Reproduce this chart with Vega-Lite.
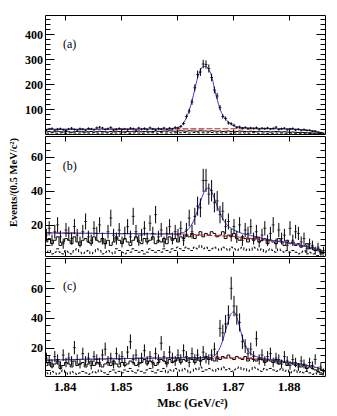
{
"$schema": "https://vega.github.io/schema/vega-lite/v6.json",
"background": "white",
"padding": {"left": 7, "top": 14, "right": 5, "bottom": 5},
"spacing": 0,
"config": {
 "view": {"stroke": "black", "strokeWidth": 1},
 "font": "Liberation Serif",
 "axis": {"domain": false, "grid": false, "tickColor": "black", "tickWidth": 1, "labelFont": "Liberation Serif", "labelFontWeight": "bold", "labelFontSize": 12, "labelColor": "black", "titleFont": "Liberation Serif", "titleFontWeight": "bold", "titleColor": "black", "labelOverlap": false, "labelFlush": false, "labelBound": false},
 "axisX": {"labelFontSize": 13}
},
"datasets": {
"a": [
{"x":1.83675,"n":16,"e":4,"f":18.5,"g":18.5,"h":9,"k":4},
{"x":1.83725,"n":20,"e":4.5,"f":18.5,"g":18.5,"h":10,"k":3},
{"x":1.83775,"n":22,"e":4.7,"f":18.6,"g":18.6,"h":8,"k":5},
{"x":1.83825,"n":15,"e":3.9,"f":18.6,"g":18.6,"h":9,"k":4},
{"x":1.83875,"n":19,"e":4.4,"f":18.7,"g":18.7,"h":11,"k":3},
{"x":1.83925,"n":21,"e":4.6,"f":18.7,"g":18.7,"h":9,"k":4},
{"x":1.83975,"n":17,"e":4.1,"f":18.7,"g":18.7,"h":8,"k":5},
{"x":1.84025,"n":14,"e":3.7,"f":18.8,"g":18.8,"h":10,"k":3},
{"x":1.84075,"n":20,"e":4.5,"f":18.8,"g":18.8,"h":9,"k":4},
{"x":1.84125,"n":23,"e":4.8,"f":18.9,"g":18.9,"h":7,"k":5},
{"x":1.84175,"n":18,"e":4.2,"f":18.9,"g":18.9,"h":9,"k":4},
{"x":1.84225,"n":16,"e":4,"f":18.9,"g":18.9,"h":10,"k":3},
{"x":1.84275,"n":21,"e":4.6,"f":19.0,"g":19.0,"h":11,"k":4},
{"x":1.84325,"n":19,"e":4.4,"f":19.0,"g":19.0,"h":9,"k":5},
{"x":1.84375,"n":15,"e":3.9,"f":19.1,"g":19.1,"h":8,"k":4},
{"x":1.84425,"n":22,"e":4.7,"f":19.1,"g":19.1,"h":9,"k":4},
{"x":1.84475,"n":20,"e":4.5,"f":19.1,"g":19.1,"h":10,"k":3},
{"x":1.84525,"n":17,"e":4.1,"f":19.2,"g":19.2,"h":8,"k":5},
{"x":1.84575,"n":25,"e":5,"f":19.2,"g":19.2,"h":9,"k":4},
{"x":1.84625,"n":27,"e":5.2,"f":19.3,"g":19.3,"h":11,"k":3},
{"x":1.84675,"n":24,"e":4.9,"f":19.3,"g":19.3,"h":10,"k":4},
{"x":1.84725,"n":18,"e":4.2,"f":19.3,"g":19.3,"h":9,"k":5},
{"x":1.84775,"n":21,"e":4.6,"f":19.4,"g":19.4,"h":8,"k":4},
{"x":1.84825,"n":26,"e":5.1,"f":19.4,"g":19.4,"h":10,"k":3},
{"x":1.84875,"n":16,"e":4,"f":19.5,"g":19.5,"h":9,"k":5},
{"x":1.84925,"n":19,"e":4.4,"f":19.5,"g":19.5,"h":11,"k":4},
{"x":1.84975,"n":22,"e":4.7,"f":19.5,"g":19.5,"h":10,"k":4},
{"x":1.85025,"n":18,"e":4.2,"f":19.6,"g":19.6,"h":8,"k":3},
{"x":1.85075,"n":20,"e":4.5,"f":19.6,"g":19.6,"h":9,"k":5},
{"x":1.85125,"n":17,"e":4.1,"f":19.7,"g":19.7,"h":10,"k":4},
{"x":1.85175,"n":23,"e":4.8,"f":19.7,"g":19.7,"h":9,"k":3},
{"x":1.85225,"n":21,"e":4.6,"f":19.7,"g":19.7,"h":11,"k":4},
{"x":1.85275,"n":15,"e":3.9,"f":19.8,"g":19.8,"h":10,"k":5},
{"x":1.85325,"n":24,"e":4.9,"f":19.8,"g":19.8,"h":12,"k":4},
{"x":1.85375,"n":19,"e":4.4,"f":19.9,"g":19.9,"h":9,"k":3},
{"x":1.85425,"n":22,"e":4.7,"f":19.9,"g":19.9,"h":10,"k":4},
{"x":1.85475,"n":18,"e":4.2,"f":19.9,"g":19.9,"h":11,"k":5},
{"x":1.85525,"n":25,"e":5,"f":20.0,"g":20.0,"h":9,"k":4},
{"x":1.85575,"n":20,"e":4.5,"f":20.0,"g":20.0,"h":10,"k":5},
{"x":1.85625,"n":17,"e":4.1,"f":20.1,"g":20.1,"h":12,"k":4},
{"x":1.85675,"n":22,"e":4.7,"f":20.1,"g":20.1,"h":11,"k":3},
{"x":1.85725,"n":19,"e":4.4,"f":20.1,"g":20.1,"h":10,"k":5},
{"x":1.85775,"n":24,"e":4.9,"f":20.2,"g":20.2,"h":12,"k":4},
{"x":1.85825,"n":18,"e":4.2,"f":20.2,"g":20.2,"h":11,"k":4},
{"x":1.85875,"n":23,"e":4.8,"f":21.5,"g":20.3,"h":13,"k":5},
{"x":1.85925,"n":20,"e":4.5,"f":22,"g":20.3,"h":12,"k":4},
{"x":1.85975,"n":26,"e":5.1,"f":23,"g":20.3,"h":11,"k":5},
{"x":1.86025,"n":24,"e":4.9,"f":26,"g":20.4,"h":12,"k":4},
{"x":1.86075,"n":30,"e":5.5,"f":32,"g":20.4,"h":13,"k":5},
{"x":1.86125,"n":42,"e":6.5,"f":45,"g":20.5,"h":12,"k":6},
{"x":1.86175,"n":70,"e":8.4,"f":65,"g":20.5,"h":11,"k":5},
{"x":1.86225,"n":92,"e":9.6,"f":95,"g":20.5,"h":13,"k":4},
{"x":1.86275,"n":128,"e":11.3,"f":132,"g":20.6,"h":12,"k":5},
{"x":1.86325,"n":185,"e":13.6,"f":179,"g":20.6,"h":12,"k":6},
{"x":1.86375,"n":238,"e":15.4,"f":225,"g":20.7,"h":11,"k":5},
{"x":1.86425,"n":248,"e":15.7,"f":255,"g":20.7,"h":13,"k":4},
{"x":1.86475,"n":280,"e":16.7,"f":270,"g":20.7,"h":12,"k":5},
{"x":1.86525,"n":278,"e":16.7,"f":271,"g":20.8,"h":12,"k":4},
{"x":1.86575,"n":262,"e":16.2,"f":258,"g":20.8,"h":11,"k":5},
{"x":1.86625,"n":226,"e":15,"f":232,"g":20.8,"h":13,"k":6},
{"x":1.86675,"n":176,"e":13.3,"f":183,"g":20.9,"h":12,"k":5},
{"x":1.86725,"n":152,"e":12.3,"f":138,"g":20.9,"h":11,"k":4},
{"x":1.86775,"n":106,"e":10.3,"f":100,"g":20.9,"h":12,"k":5},
{"x":1.86825,"n":70,"e":8.4,"f":75,"g":20.9,"h":10,"k":4},
{"x":1.86875,"n":62,"e":7.9,"f":59,"g":21,"h":11,"k":5},
{"x":1.86925,"n":44,"e":6.6,"f":48,"g":21,"h":12,"k":4},
{"x":1.86975,"n":41,"e":6.4,"f":39,"g":21,"h":10,"k":3},
{"x":1.87025,"n":35,"e":5.9,"f":32,"g":21,"h":11,"k":5},
{"x":1.87075,"n":26,"e":5.1,"f":29,"g":21,"h":10,"k":4},
{"x":1.87125,"n":28,"e":5.3,"f":27,"g":21,"h":12,"k":4},
{"x":1.87175,"n":23,"e":4.8,"f":25.5,"g":21,"h":11,"k":5},
{"x":1.87225,"n":26,"e":5.1,"f":24.5,"g":21,"h":10,"k":4},
{"x":1.87275,"n":21,"e":4.6,"f":24,"g":21,"h":9,"k":3},
{"x":1.87325,"n":24,"e":4.9,"f":23.5,"g":21,"h":11,"k":4},
{"x":1.87375,"n":22,"e":4.7,"f":23.2,"g":21,"h":10,"k":5},
{"x":1.87425,"n":25,"e":5,"f":22.9,"g":21,"h":9,"k":4},
{"x":1.87475,"n":19,"e":4.4,"f":22.6,"g":21,"h":11,"k":3},
{"x":1.87525,"n":23,"e":4.8,"f":22.4,"g":21,"h":10,"k":4},
{"x":1.87575,"n":21,"e":4.6,"f":22.2,"g":21,"h":9,"k":4},
{"x":1.87625,"n":24,"e":4.9,"f":22.0,"g":21,"h":10,"k":3},
{"x":1.87675,"n":20,"e":4.5,"f":21.8,"g":21,"h":8,"k":4},
{"x":1.87725,"n":22,"e":4.7,"f":21.6,"g":21,"h":9,"k":3},
{"x":1.87775,"n":27,"e":5.2,"f":21.4,"g":21,"h":10,"k":4},
{"x":1.87825,"n":18,"e":4.2,"f":21.2,"g":21,"h":9,"k":3},
{"x":1.87875,"n":21,"e":4.6,"f":21.0,"g":21,"h":8,"k":4},
{"x":1.87925,"n":23,"e":4.8,"f":20.7,"g":20.7,"h":9,"k":3},
{"x":1.87975,"n":17,"e":4.1,"f":20.4,"g":20.4,"h":8,"k":3},
{"x":1.88025,"n":20,"e":4.5,"f":20.0,"g":20.0,"h":7,"k":4},
{"x":1.88075,"n":22,"e":4.7,"f":19.5,"g":19.5,"h":8,"k":3},
{"x":1.88125,"n":16,"e":4,"f":18.9,"g":18.9,"h":7,"k":3},
{"x":1.88175,"n":19,"e":4.4,"f":18.2,"g":18.2,"h":6,"k":2},
{"x":1.88225,"n":15,"e":3.9,"f":17.4,"g":17.4,"h":7,"k":3},
{"x":1.88275,"n":18,"e":4.2,"f":16.4,"g":16.4,"h":6,"k":3},
{"x":1.88325,"n":14,"e":3.7,"f":15.2,"g":15.2,"h":5,"k":2},
{"x":1.88375,"n":15,"e":3.9,"f":13.8,"g":13.8,"h":5,"k":2},
{"x":1.88425,"n":11,"e":3.3,"f":12.2,"g":12.2,"h":4,"k":2},
{"x":1.88475,"n":12,"e":3.5,"f":10.3,"g":10.3,"h":4,"k":1},
{"x":1.88525,"n":7,"e":2.6,"f":8.1,"g":8.1,"h":3,"k":1},
{"x":1.88575,"n":6,"e":2.4,"f":5.6,"g":5.6,"h":2,"k":1},
{"x":1.88625,"n":3,"e":1.7,"f":2.8,"g":2.8,"h":1,"k":1}
],
"b": [
{"x":1.83675,"n":14,"e":3.7,"f":15.3,"g":15.3,"h":10,"k":4},
{"x":1.83725,"n":18,"e":4.2,"f":15.3,"g":15.3,"h":12,"k":5},
{"x":1.83775,"n":11,"e":3.3,"f":15.3,"g":15.3,"h":9,"k":3},
{"x":1.83825,"n":16,"e":4,"f":15.3,"g":15.3,"h":11,"k":4},
{"x":1.83875,"n":20,"e":4.5,"f":15.2,"g":15.2,"h":13,"k":6},
{"x":1.83925,"n":13,"e":3.6,"f":15.2,"g":15.2,"h":8,"k":4},
{"x":1.83975,"n":9,"e":3,"f":15.2,"g":15.2,"h":10,"k":3},
{"x":1.84025,"n":17,"e":4.1,"f":15.2,"g":15.2,"h":12,"k":5},
{"x":1.84075,"n":15,"e":3.9,"f":15.2,"g":15.2,"h":11,"k":4},
{"x":1.84125,"n":12,"e":3.5,"f":15.2,"g":15.2,"h":9,"k":3},
{"x":1.84175,"n":19,"e":4.4,"f":15.2,"g":15.2,"h":13,"k":5},
{"x":1.84225,"n":14,"e":3.7,"f":15.1,"g":15.1,"h":10,"k":6},
{"x":1.84275,"n":10,"e":3.2,"f":15.1,"g":15.1,"h":8,"k":4},
{"x":1.84325,"n":16,"e":4,"f":15.1,"g":15.1,"h":11,"k":3},
{"x":1.84375,"n":22,"e":4.7,"f":15.1,"g":15.1,"h":12,"k":4},
{"x":1.84425,"n":13,"e":3.6,"f":15.1,"g":15.1,"h":10,"k":5},
{"x":1.84475,"n":11,"e":3.3,"f":15.1,"g":15.1,"h":9,"k":3},
{"x":1.84525,"n":18,"e":4.2,"f":15.1,"g":15.1,"h":13,"k":4},
{"x":1.84575,"n":15,"e":3.9,"f":15.0,"g":15.0,"h":11,"k":6},
{"x":1.84625,"n":20,"e":4.5,"f":15.0,"g":15.0,"h":10,"k":5},
{"x":1.84675,"n":12,"e":3.5,"f":15.0,"g":15.0,"h":12,"k":3},
{"x":1.84725,"n":9,"e":3,"f":15.0,"g":15.0,"h":9,"k":4},
{"x":1.84775,"n":16,"e":4,"f":15.0,"g":15.0,"h":11,"k":5},
{"x":1.84825,"n":24,"e":4.9,"f":15.0,"g":15.0,"h":8,"k":4},
{"x":1.84875,"n":14,"e":3.7,"f":15.0,"g":15.0,"h":10,"k":3},
{"x":1.84925,"n":12,"e":3.5,"f":14.9,"g":14.9,"h":13,"k":6},
{"x":1.84975,"n":17,"e":4.1,"f":14.9,"g":14.9,"h":11,"k":5},
{"x":1.85025,"n":10,"e":3.2,"f":14.9,"g":14.9,"h":9,"k":4},
{"x":1.85075,"n":15,"e":3.9,"f":14.9,"g":14.9,"h":12,"k":3},
{"x":1.85125,"n":19,"e":4.4,"f":14.9,"g":14.9,"h":10,"k":5},
{"x":1.85175,"n":13,"e":3.6,"f":14.9,"g":14.9,"h":8,"k":4},
{"x":1.85225,"n":25,"e":5,"f":14.9,"g":14.9,"h":11,"k":6},
{"x":1.85275,"n":16,"e":4,"f":14.8,"g":14.8,"h":13,"k":5},
{"x":1.85325,"n":11,"e":3.3,"f":14.8,"g":14.8,"h":10,"k":4},
{"x":1.85375,"n":14,"e":3.7,"f":14.8,"g":14.8,"h":9,"k":5},
{"x":1.85425,"n":18,"e":4.2,"f":14.8,"g":14.8,"h":12,"k":3},
{"x":1.85475,"n":12,"e":3.5,"f":14.8,"g":14.8,"h":10,"k":4},
{"x":1.85525,"n":21,"e":4.6,"f":14.8,"g":14.8,"h":11,"k":6},
{"x":1.85575,"n":15,"e":3.9,"f":14.8,"g":14.8,"h":13,"k":5},
{"x":1.85625,"n":26,"e":5.1,"f":14.7,"g":14.7,"h":9,"k":4},
{"x":1.85675,"n":13,"e":3.6,"f":14.7,"g":14.7,"h":11,"k":5},
{"x":1.85725,"n":17,"e":4.1,"f":14.7,"g":14.7,"h":10,"k":4},
{"x":1.85775,"n":10,"e":3.2,"f":14.7,"g":14.7,"h":12,"k":6},
{"x":1.85825,"n":15,"e":3.9,"f":14.7,"g":14.7,"h":9,"k":5},
{"x":1.85875,"n":19,"e":4.4,"f":14.7,"g":14.7,"h":13,"k":4},
{"x":1.85925,"n":12,"e":3.5,"f":14.7,"g":14.7,"h":11,"k":6},
{"x":1.85975,"n":16,"e":4,"f":14.7,"g":14.7,"h":12,"k":5},
{"x":1.86025,"n":14,"e":3.7,"f":14.6,"g":14.6,"h":10,"k":7},
{"x":1.86075,"n":18,"e":4.2,"f":15.2,"g":14.6,"h":13,"k":6},
{"x":1.86125,"n":11,"e":3.3,"f":15.6,"g":14.6,"h":12,"k":5},
{"x":1.86175,"n":17,"e":4.1,"f":16.5,"g":14.5,"h":14,"k":7},
{"x":1.86225,"n":24,"e":4.9,"f":18,"g":14.4,"h":13,"k":6},
{"x":1.86275,"n":16,"e":4,"f":20.5,"g":14.4,"h":15,"k":5},
{"x":1.86325,"n":25,"e":5,"f":24,"g":14.3,"h":12,"k":7},
{"x":1.86375,"n":31,"e":5.6,"f":28.5,"g":14.2,"h":14,"k":6},
{"x":1.86425,"n":30,"e":5.5,"f":33.5,"g":14.1,"h":16,"k":8},
{"x":1.86475,"n":46,"e":6.8,"f":38,"g":14.1,"h":13,"k":6},
{"x":1.86525,"n":46,"e":6.8,"f":41,"g":14.0,"h":15,"k":7},
{"x":1.86575,"n":38,"e":6.2,"f":41.5,"g":13.9,"h":14,"k":5},
{"x":1.86625,"n":40,"e":6.3,"f":39.5,"g":13.8,"h":16,"k":6},
{"x":1.86675,"n":33,"e":5.7,"f":35.5,"g":13.7,"h":15,"k":7},
{"x":1.86725,"n":34,"e":5.8,"f":31,"g":13.7,"h":13,"k":6},
{"x":1.86775,"n":26,"e":5.1,"f":27,"g":13.6,"h":14,"k":5},
{"x":1.86825,"n":28,"e":5.3,"f":23.5,"g":13.5,"h":16,"k":7},
{"x":1.86875,"n":19,"e":4.4,"f":21,"g":13.4,"h":12,"k":6},
{"x":1.86925,"n":22,"e":4.7,"f":19.2,"g":13.4,"h":14,"k":5},
{"x":1.86975,"n":14,"e":3.7,"f":18,"g":13.3,"h":13,"k":7},
{"x":1.87025,"n":19,"e":4.4,"f":17,"g":13.2,"h":15,"k":6},
{"x":1.87075,"n":13,"e":3.6,"f":16.2,"g":13.0,"h":12,"k":5},
{"x":1.87125,"n":20,"e":4.5,"f":15.5,"g":12.8,"h":11,"k":6},
{"x":1.87175,"n":11,"e":3.3,"f":15.0,"g":12.7,"h":13,"k":7},
{"x":1.87225,"n":17,"e":4.1,"f":14.6,"g":12.5,"h":12,"k":5},
{"x":1.87275,"n":15,"e":3.9,"f":14.2,"g":12.3,"h":10,"k":6},
{"x":1.87325,"n":19,"e":4.4,"f":13.8,"g":12.1,"h":12,"k":5},
{"x":1.87375,"n":12,"e":3.5,"f":13.4,"g":11.9,"h":11,"k":7},
{"x":1.87425,"n":16,"e":4,"f":13.0,"g":11.7,"h":13,"k":6},
{"x":1.87475,"n":10,"e":3.2,"f":12.6,"g":11.6,"h":10,"k":5},
{"x":1.87525,"n":14,"e":3.7,"f":12.2,"g":11.4,"h":11,"k":6},
{"x":1.87575,"n":18,"e":4.2,"f":11.8,"g":11.2,"h":12,"k":4},
{"x":1.87625,"n":11,"e":3.3,"f":11.5,"g":11.0,"h":9,"k":5},
{"x":1.87675,"n":15,"e":3.9,"f":11.2,"g":10.8,"h":11,"k":6},
{"x":1.87725,"n":20,"e":4.5,"f":10.9,"g":10.6,"h":10,"k":5},
{"x":1.87775,"n":9,"e":3,"f":10.7,"g":10.5,"h":9,"k":4},
{"x":1.87825,"n":17,"e":4.1,"f":10.4,"g":10.3,"h":12,"k":6},
{"x":1.87875,"n":12,"e":3.5,"f":10.2,"g":10.1,"h":10,"k":5},
{"x":1.87925,"n":14,"e":3.7,"f":9.9,"g":9.9,"h":8,"k":4},
{"x":1.87975,"n":8,"e":2.8,"f":9.6,"g":9.6,"h":11,"k":5},
{"x":1.88025,"n":18,"e":4.2,"f":9.3,"g":9.3,"h":9,"k":4},
{"x":1.88075,"n":11,"e":3.3,"f":9.0,"g":9.0,"h":10,"k":5},
{"x":1.88125,"n":16,"e":4,"f":8.7,"g":8.7,"h":8,"k":4},
{"x":1.88175,"n":15,"e":3.9,"f":8.4,"g":8.4,"h":9,"k":3},
{"x":1.88225,"n":10,"e":3.2,"f":8.0,"g":8.0,"h":7,"k":4},
{"x":1.88275,"n":12,"e":3.5,"f":7.6,"g":7.6,"h":8,"k":5},
{"x":1.88325,"n":6,"e":2.4,"f":7.2,"g":7.2,"h":9,"k":3},
{"x":1.88375,"n":9,"e":3,"f":6.8,"g":6.8,"h":6,"k":4},
{"x":1.88425,"n":8,"e":2.8,"f":6.3,"g":6.3,"h":7,"k":3},
{"x":1.88475,"n":5,"e":2.2,"f":5.8,"g":5.8,"h":5,"k":3},
{"x":1.88525,"n":7,"e":2.6,"f":5.3,"g":5.3,"h":6,"k":2},
{"x":1.88575,"n":4,"e":2,"f":4.8,"g":4.8,"h":4,"k":3},
{"x":1.88625,"n":5,"e":2.2,"f":4.3,"g":4.3,"h":3,"k":2}
],
"c": [
{"x":1.83675,"n":13,"e":3.6,"f":11.6,"g":11.6,"h":8,"k":3},
{"x":1.83725,"n":11,"e":3.3,"f":11.6,"g":11.6,"h":10,"k":2},
{"x":1.83775,"n":9,"e":3,"f":11.7,"g":11.7,"h":7,"k":4},
{"x":1.83825,"n":14,"e":3.7,"f":11.7,"g":11.7,"h":9,"k":3},
{"x":1.83875,"n":12,"e":3.5,"f":11.8,"g":11.8,"h":11,"k":2},
{"x":1.83925,"n":8,"e":2.8,"f":11.8,"g":11.8,"h":6,"k":3},
{"x":1.83975,"n":15,"e":3.9,"f":11.8,"g":11.8,"h":8,"k":5},
{"x":1.84025,"n":10,"e":3.2,"f":11.9,"g":11.9,"h":10,"k":3},
{"x":1.84075,"n":13,"e":3.6,"f":11.9,"g":11.9,"h":9,"k":2},
{"x":1.84125,"n":11,"e":3.3,"f":12.0,"g":12.0,"h":7,"k":4},
{"x":1.84175,"n":20,"e":4.5,"f":12.0,"g":12.0,"h":11,"k":3},
{"x":1.84225,"n":12,"e":3.5,"f":12.0,"g":12.0,"h":8,"k":2},
{"x":1.84275,"n":9,"e":3,"f":12.1,"g":12.1,"h":9,"k":3},
{"x":1.84325,"n":16,"e":4,"f":12.1,"g":12.1,"h":10,"k":4},
{"x":1.84375,"n":11,"e":3.3,"f":12.2,"g":12.2,"h":7,"k":3},
{"x":1.84425,"n":13,"e":3.6,"f":12.2,"g":12.2,"h":9,"k":2},
{"x":1.84475,"n":8,"e":2.8,"f":12.2,"g":12.2,"h":11,"k":3},
{"x":1.84525,"n":14,"e":3.7,"f":12.3,"g":12.3,"h":8,"k":4},
{"x":1.84575,"n":12,"e":3.5,"f":12.3,"g":12.3,"h":10,"k":3},
{"x":1.84625,"n":10,"e":3.2,"f":12.4,"g":12.4,"h":9,"k":5},
{"x":1.84675,"n":15,"e":3.9,"f":12.4,"g":12.4,"h":7,"k":4},
{"x":1.84725,"n":19,"e":4.4,"f":12.4,"g":12.4,"h":9,"k":3},
{"x":1.84775,"n":11,"e":3.3,"f":12.5,"g":12.5,"h":10,"k":2},
{"x":1.84825,"n":13,"e":3.6,"f":12.5,"g":12.5,"h":8,"k":4},
{"x":1.84875,"n":9,"e":3,"f":12.5,"g":12.5,"h":11,"k":5},
{"x":1.84925,"n":16,"e":4,"f":12.6,"g":12.6,"h":9,"k":3},
{"x":1.84975,"n":12,"e":3.5,"f":12.6,"g":12.6,"h":7,"k":4},
{"x":1.85025,"n":14,"e":3.7,"f":12.6,"g":12.6,"h":10,"k":3},
{"x":1.85075,"n":10,"e":3.2,"f":12.7,"g":12.7,"h":8,"k":5},
{"x":1.85125,"n":17,"e":4.1,"f":12.7,"g":12.7,"h":9,"k":4},
{"x":1.85175,"n":24,"e":4.9,"f":12.7,"g":12.7,"h":11,"k":6},
{"x":1.85225,"n":12,"e":3.5,"f":12.7,"g":12.7,"h":10,"k":4},
{"x":1.85275,"n":15,"e":3.9,"f":12.8,"g":12.8,"h":8,"k":3},
{"x":1.85325,"n":10,"e":3.2,"f":12.8,"g":12.8,"h":9,"k":5},
{"x":1.85375,"n":13,"e":3.6,"f":12.8,"g":12.8,"h":10,"k":4},
{"x":1.85425,"n":18,"e":4.2,"f":12.9,"g":12.9,"h":12,"k":3},
{"x":1.85475,"n":11,"e":3.3,"f":12.9,"g":12.9,"h":9,"k":5},
{"x":1.85525,"n":14,"e":3.7,"f":12.9,"g":12.9,"h":11,"k":6},
{"x":1.85575,"n":9,"e":3,"f":13.0,"g":13.0,"h":10,"k":4},
{"x":1.85625,"n":16,"e":4,"f":13.0,"g":13.0,"h":8,"k":3},
{"x":1.85675,"n":12,"e":3.5,"f":13.0,"g":13.0,"h":10,"k":5},
{"x":1.85725,"n":23,"e":4.8,"f":13.0,"g":13.0,"h":12,"k":4},
{"x":1.85775,"n":14,"e":3.7,"f":13.0,"g":13.0,"h":11,"k":6},
{"x":1.85825,"n":10,"e":3.2,"f":13.1,"g":13.1,"h":9,"k":3},
{"x":1.85875,"n":17,"e":4.1,"f":13.1,"g":13.1,"h":12,"k":5},
{"x":1.85925,"n":13,"e":3.6,"f":13.1,"g":13.1,"h":10,"k":4},
{"x":1.85975,"n":11,"e":3.3,"f":13.1,"g":13.1,"h":11,"k":6},
{"x":1.86025,"n":15,"e":3.9,"f":13.1,"g":13.1,"h":13,"k":5},
{"x":1.86075,"n":12,"e":3.5,"f":13.2,"g":13.2,"h":10,"k":4},
{"x":1.86125,"n":18,"e":4.2,"f":13.2,"g":13.2,"h":12,"k":6},
{"x":1.86175,"n":14,"e":3.7,"f":13.2,"g":13.2,"h":11,"k":5},
{"x":1.86225,"n":10,"e":3.2,"f":13.2,"g":13.2,"h":13,"k":3},
{"x":1.86275,"n":16,"e":4,"f":13.2,"g":13.2,"h":12,"k":4},
{"x":1.86325,"n":12,"e":3.5,"f":13.2,"g":13.2,"h":10,"k":6},
{"x":1.86375,"n":15,"e":3.9,"f":13.2,"g":13.2,"h":13,"k":5},
{"x":1.86425,"n":11,"e":3.3,"f":13.2,"g":13.2,"h":11,"k":7},
{"x":1.86475,"n":17,"e":4.1,"f":13.2,"g":13.2,"h":12,"k":4},
{"x":1.86525,"n":13,"e":3.6,"f":13.2,"g":13.2,"h":14,"k":5},
{"x":1.86575,"n":12,"e":3.5,"f":13.2,"g":13.2,"h":12,"k":6},
{"x":1.86625,"n":15,"e":3.9,"f":13.6,"g":13.2,"h":13,"k":5},
{"x":1.86675,"n":19,"e":4.4,"f":14.5,"g":13.2,"h":11,"k":4},
{"x":1.86725,"n":14,"e":3.7,"f":16.5,"g":13.2,"h":13,"k":6},
{"x":1.86775,"n":33,"e":5.7,"f":20,"g":13.1,"h":12,"k":5},
{"x":1.86825,"n":30,"e":5.5,"f":25,"g":13.1,"h":14,"k":7},
{"x":1.86875,"n":36,"e":6,"f":31.5,"g":13.1,"h":13,"k":5},
{"x":1.86925,"n":42,"e":6.5,"f":38,"g":13.0,"h":15,"k":6},
{"x":1.86975,"n":60,"e":7.7,"f":43,"g":13.0,"h":13,"k":4},
{"x":1.87025,"n":48,"e":6.9,"f":44.2,"g":13.0,"h":12,"k":5},
{"x":1.87075,"n":42,"e":6.5,"f":40.5,"g":12.9,"h":14,"k":6},
{"x":1.87125,"n":37,"e":6.1,"f":34,"g":12.9,"h":13,"k":7},
{"x":1.87175,"n":24,"e":4.9,"f":27,"g":12.8,"h":12,"k":5},
{"x":1.87225,"n":21,"e":4.6,"f":21.5,"g":12.7,"h":14,"k":6},
{"x":1.87275,"n":16,"e":4,"f":18,"g":12.6,"h":11,"k":4},
{"x":1.87325,"n":19,"e":4.4,"f":16,"g":12.5,"h":13,"k":5},
{"x":1.87375,"n":14,"e":3.7,"f":14.8,"g":12.4,"h":12,"k":7},
{"x":1.87425,"n":26,"e":5.1,"f":14.0,"g":12.3,"h":11,"k":6},
{"x":1.87475,"n":12,"e":3.5,"f":13.4,"g":12.1,"h":13,"k":5},
{"x":1.87525,"n":15,"e":3.9,"f":13.0,"g":12.0,"h":12,"k":4},
{"x":1.87575,"n":11,"e":3.3,"f":12.6,"g":11.8,"h":10,"k":6},
{"x":1.87625,"n":14,"e":3.7,"f":12.3,"g":11.7,"h":12,"k":5},
{"x":1.87675,"n":16,"e":4,"f":12.0,"g":11.5,"h":11,"k":6},
{"x":1.87725,"n":10,"e":3.2,"f":11.7,"g":11.3,"h":10,"k":5},
{"x":1.87775,"n":13,"e":3.6,"f":11.4,"g":11.1,"h":12,"k":4},
{"x":1.87825,"n":12,"e":3.5,"f":11.1,"g":10.9,"h":9,"k":5},
{"x":1.87875,"n":9,"e":3,"f":10.8,"g":10.7,"h":11,"k":6},
{"x":1.87925,"n":14,"e":3.7,"f":10.5,"g":10.5,"h":10,"k":4},
{"x":1.87975,"n":11,"e":3.3,"f":10.3,"g":10.3,"h":8,"k":5},
{"x":1.88025,"n":8,"e":2.8,"f":10.0,"g":10.0,"h":10,"k":3},
{"x":1.88075,"n":12,"e":3.5,"f":9.8,"g":9.8,"h":9,"k":4},
{"x":1.88125,"n":10,"e":3.2,"f":9.5,"g":9.5,"h":8,"k":5},
{"x":1.88175,"n":7,"e":2.6,"f":9.2,"g":9.2,"h":9,"k":3},
{"x":1.88225,"n":11,"e":3.3,"f":8.9,"g":8.9,"h":7,"k":4},
{"x":1.88275,"n":9,"e":3,"f":8.5,"g":8.5,"h":8,"k":3},
{"x":1.88325,"n":6,"e":2.4,"f":8.1,"g":8.1,"h":6,"k":4},
{"x":1.88375,"n":10,"e":3.2,"f":7.7,"g":7.7,"h":7,"k":3},
{"x":1.88425,"n":8,"e":2.8,"f":7.3,"g":7.3,"h":6,"k":2},
{"x":1.88475,"n":12,"e":3.5,"f":6.8,"g":6.8,"h":5,"k":3},
{"x":1.88525,"n":5,"e":2.2,"f":6.3,"g":6.3,"h":4,"k":2},
{"x":1.88575,"n":7,"e":2.6,"f":5.7,"g":5.7,"h":3,"k":2},
{"x":1.88625,"n":4,"e":2,"f":4.9,"g":4.9,"h":2,"k":1}
]
},
"vconcat": [
{
 "width": 280, "height": 119,
 "data": {"name": "a"},
 "resolve": {"axis": {"x": "independent", "y": "independent"}},
 "layer": [
  {"mark": {"type": "line", "interpolate": "step", "color": "black", "strokeWidth": 1, "clip": true},
   "encoding": {
    "x": {"field": "x", "type": "quantitative", "scale": {"domain": [1.8365, 1.8865], "nice": false, "zero": false},
          "axis": {"orient": "bottom", "values": [1.84, 1.85, 1.86, 1.87, 1.88], "labels": false, "tickSize": -5, "title": null}},
    "y": {"field": "h", "type": "quantitative", "scale": {"domain": [0, 476], "nice": false, "zero": false},
          "axis": {"orient": "left", "values": [100, 200, 300, 400], "tickSize": -9, "labelPadding": 11.5, "title": null}}}},
  {"mark": {"type": "line", "interpolate": "step", "color": "black", "strokeWidth": 1, "strokeDash": [3, 2], "clip": true},
   "encoding": {
    "x": {"field": "x", "type": "quantitative", "axis": {"orient": "top", "values": [1.84, 1.85, 1.86, 1.87, 1.88], "labels": false, "tickSize": -5, "title": null}},
    "y": {"field": "k", "type": "quantitative", "axis": {"orient": "left", "values": [20,40,60,80,100,120,140,160,180,200,220,240,260,280,300,320,340,360,380,400,420,440,460], "labels": false, "tickSize": -5, "title": null}}}},
  {"mark": {"type": "line", "interpolate": "monotone", "color": "#cc2222", "strokeWidth": 1.1, "strokeDash": [6, 2], "clip": true},
   "encoding": {
    "x": {"field": "x", "type": "quantitative", "axis": null},
    "y": {"field": "g", "type": "quantitative", "axis": {"orient": "right", "values": [100, 200, 300, 400], "labels": false, "tickSize": -9, "title": null}}}},
  {"mark": {"type": "line", "interpolate": "monotone", "color": "#3a3ae0", "strokeWidth": 1, "clip": true},
   "encoding": {
    "x": {"field": "x", "type": "quantitative", "axis": null},
    "y": {"field": "f", "type": "quantitative", "axis": {"orient": "right", "values": [20,40,60,80,100,120,140,160,180,200,220,240,260,280,300,320,340,360,380,400,420,440,460], "labels": false, "tickSize": -5, "title": null}}}},
  {"mark": {"type": "errorbar", "color": "black", "thickness": 1, "clip": true},
   "encoding": {
    "x": {"field": "x", "type": "quantitative", "axis": null},
    "y": {"field": "n", "type": "quantitative", "axis": null},
    "yError": {"field": "e"}}},
  {"mark": {"type": "tick", "orient": "horizontal", "color": "black", "size": 3, "thickness": 1, "clip": true},
   "encoding": {
    "x": {"field": "x", "type": "quantitative", "axis": null},
    "y": {"field": "n", "type": "quantitative", "axis": null}}},
  {"data": {"values": [{"x": 1.8409, "y": 360, "t": "(a)"}]},
   "mark": {"type": "text", "font": "Liberation Serif", "fontSize": 12, "color": "black"},
   "encoding": {
    "x": {"field": "x", "type": "quantitative", "axis": null},
    "y": {"field": "y", "type": "quantitative", "axis": null},
    "text": {"field": "t"}}}
 ]
},
{
 "width": 280, "height": 120,
 "data": {"name": "b"},
 "resolve": {"axis": {"x": "independent", "y": "independent"}},
 "layer": [
  {"mark": {"type": "line", "interpolate": "step", "color": "black", "strokeWidth": 1, "clip": true},
   "encoding": {
    "x": {"field": "x", "type": "quantitative", "scale": {"domain": [1.8365, 1.8865], "nice": false, "zero": false},
          "axis": {"orient": "bottom", "values": [1.84, 1.85, 1.86, 1.87, 1.88], "labels": false, "tickSize": -5, "title": null}},
    "y": {"field": "h", "type": "quantitative", "scale": {"domain": [1.8, 72], "nice": false, "zero": false},
          "axis": {"orient": "left", "values": [20, 40, 60], "tickSize": -9, "labelPadding": 11.5, "title": "Events/(0.5 MeV/c²)", "titleFontSize": 10.5, "titleX": -27, "titleY": 46, "titleAngle": -90, "titleAlign": "center", "titleBaseline": "bottom"}}}},
  {"mark": {"type": "line", "interpolate": "step", "color": "black", "strokeWidth": 1, "strokeDash": [3, 2], "clip": true},
   "encoding": {
    "x": {"field": "x", "type": "quantitative", "axis": {"orient": "top", "values": [1.84, 1.85, 1.86, 1.87, 1.88], "labels": false, "tickSize": -5, "title": null}},
    "y": {"field": "k", "type": "quantitative", "axis": {"orient": "left", "values": [4,8,12,16,20,24,28,32,36,40,44,48,52,56,60,64,68], "labels": false, "tickSize": -5, "title": null}}}},
  {"mark": {"type": "line", "interpolate": "monotone", "color": "#cc2222", "strokeWidth": 1.1, "strokeDash": [6, 2], "clip": true},
   "encoding": {
    "x": {"field": "x", "type": "quantitative", "axis": null},
    "y": {"field": "g", "type": "quantitative", "axis": {"orient": "right", "values": [20, 40, 60], "labels": false, "tickSize": -9, "title": null}}}},
  {"mark": {"type": "line", "interpolate": "monotone", "color": "#3a3ae0", "strokeWidth": 1, "clip": true},
   "encoding": {
    "x": {"field": "x", "type": "quantitative", "axis": null},
    "y": {"field": "f", "type": "quantitative", "axis": {"orient": "right", "values": [4,8,12,16,20,24,28,32,36,40,44,48,52,56,60,64,68], "labels": false, "tickSize": -5, "title": null}}}},
  {"mark": {"type": "errorbar", "color": "black", "thickness": 1, "clip": true},
   "encoding": {
    "x": {"field": "x", "type": "quantitative", "axis": null},
    "y": {"field": "n", "type": "quantitative", "axis": null},
    "yError": {"field": "e"}}},
  {"mark": {"type": "tick", "orient": "horizontal", "color": "black", "size": 3, "thickness": 1, "clip": true},
   "encoding": {
    "x": {"field": "x", "type": "quantitative", "axis": null},
    "y": {"field": "n", "type": "quantitative", "axis": null}}},
  {"data": {"values": [{"x": 1.8409, "y": 54.5, "t": "(b)"}]},
   "mark": {"type": "text", "font": "Liberation Serif", "fontSize": 12, "color": "black"},
   "encoding": {
    "x": {"field": "x", "type": "quantitative", "axis": null},
    "y": {"field": "y", "type": "quantitative", "axis": null},
    "text": {"field": "t"}}}
 ]
},
{
 "width": 280, "height": 118,
 "data": {"name": "c"},
 "resolve": {"axis": {"x": "independent", "y": "independent"}},
 "layer": [
  {"mark": {"type": "line", "interpolate": "step", "color": "black", "strokeWidth": 1, "clip": true},
   "encoding": {
    "x": {"field": "x", "type": "quantitative", "scale": {"domain": [1.8365, 1.8865], "nice": false, "zero": false},
          "axis": {"orient": "bottom", "values": [1.84, 1.85, 1.86, 1.87, 1.88], "labels": true, "tickSize": -5, "labelPadding": 9.5, "title": "Mʙᴄ (GeV/c²)", "titleFontSize": 12, "titleX": 147, "titleY": 21, "titleAlign": "center", "titleBaseline": "top"}},
    "y": {"field": "h", "type": "quantitative", "scale": {"domain": [0.9, 80.4], "nice": false, "zero": false},
          "axis": {"orient": "left", "values": [20, 40, 60], "tickSize": -9, "labelPadding": 11.5, "title": null}}}},
  {"mark": {"type": "line", "interpolate": "step", "color": "black", "strokeWidth": 1, "strokeDash": [3, 2], "clip": true},
   "encoding": {
    "x": {"field": "x", "type": "quantitative", "axis": {"orient": "top", "values": [1.84, 1.85, 1.86, 1.87, 1.88], "labels": false, "tickSize": -5, "title": null}},
    "y": {"field": "k", "type": "quantitative", "axis": {"orient": "left", "values": [5,10,15,20,25,30,35,40,45,50,55,60,65,70,75], "labels": false, "tickSize": -5, "title": null}}}},
  {"mark": {"type": "line", "interpolate": "monotone", "color": "#cc2222", "strokeWidth": 1.1, "strokeDash": [6, 2], "clip": true},
   "encoding": {
    "x": {"field": "x", "type": "quantitative", "axis": null},
    "y": {"field": "g", "type": "quantitative", "axis": {"orient": "right", "values": [20, 40, 60], "labels": false, "tickSize": -9, "title": null}}}},
  {"mark": {"type": "line", "interpolate": "monotone", "color": "#3a3ae0", "strokeWidth": 1, "clip": true},
   "encoding": {
    "x": {"field": "x", "type": "quantitative", "axis": null},
    "y": {"field": "f", "type": "quantitative", "axis": {"orient": "right", "values": [5,10,15,20,25,30,35,40,45,50,55,60,65,70,75], "labels": false, "tickSize": -5, "title": null}}}},
  {"mark": {"type": "errorbar", "color": "black", "thickness": 1, "clip": true},
   "encoding": {
    "x": {"field": "x", "type": "quantitative", "axis": null},
    "y": {"field": "n", "type": "quantitative", "axis": null},
    "yError": {"field": "e"}}},
  {"mark": {"type": "tick", "orient": "horizontal", "color": "black", "size": 3, "thickness": 1, "clip": true},
   "encoding": {
    "x": {"field": "x", "type": "quantitative", "axis": null},
    "y": {"field": "n", "type": "quantitative", "axis": null}}},
  {"data": {"values": [{"x": 1.8409, "y": 61.5, "t": "(c)"}]},
   "mark": {"type": "text", "font": "Liberation Serif", "fontSize": 12, "color": "black"},
   "encoding": {
    "x": {"field": "x", "type": "quantitative", "axis": null},
    "y": {"field": "y", "type": "quantitative", "axis": null},
    "text": {"field": "t"}}}
 ]
}
]
}
